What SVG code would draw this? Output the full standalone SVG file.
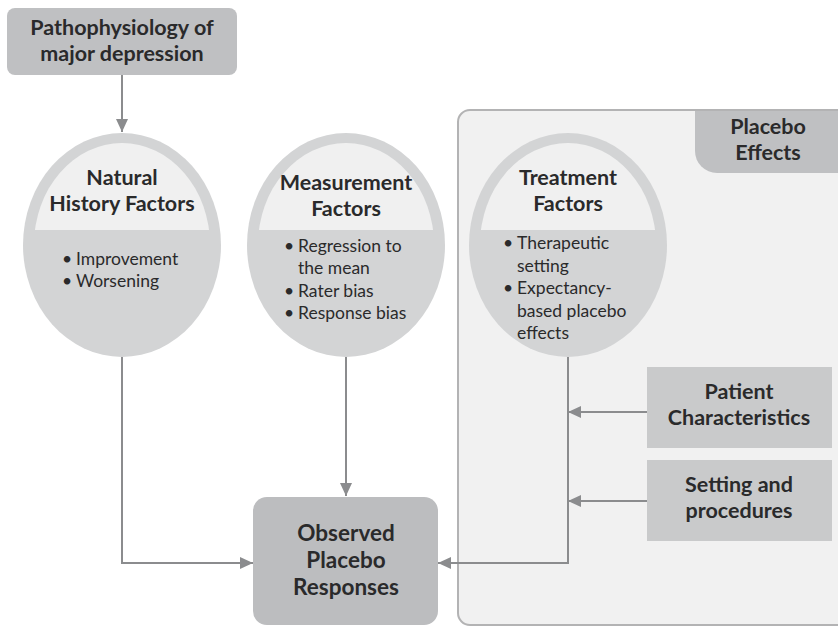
<svg xmlns="http://www.w3.org/2000/svg" width="838" height="626" viewBox="0 0 838 626">
  <style>
    .title { font-family: Lato, "Liberation Sans", sans-serif; font-weight: 700; fill: #2a2a2b; text-anchor: middle; font-size: 21.5px; }
    .big { font-size: 22.5px; }
    .item { font-family: Lato, "Liberation Sans", sans-serif; font-weight: 400; fill: #2a2a2b; font-size: 17.5px; }
    .outer { fill: #d3d4d5; }
    .inner { fill: #f0f0f0; }
    .wire { fill: none; stroke: #8b8c8e; stroke-width: 2; }
  </style>
  <defs>
    <marker id="arrow" markerWidth="13" markerHeight="12" refX="13" refY="6" orient="auto" markerUnits="userSpaceOnUse">
      <path d="M0,0 L13,6 L0,12 Z" fill="#8b8c8e"/>
    </marker>
    <clipPath id="capTop" clipPathUnits="userSpaceOnUse">
      <rect x="0" y="0" width="838" height="230"/>
    </clipPath>
  </defs>

  <rect width="838" height="626" fill="#ffffff"/>

  <!-- Placebo effects container -->
  <g id="placebo-effects">
    <rect x="458" y="110" width="400" height="515" rx="12" fill="#f1f1f1" stroke="#b3b3b4" stroke-width="2"/>
    <path d="M695,111 H840 V173 H717 A22,22 0 0 1 695,151 Z" fill="#bfc0c2"/>
    <text class="title" x="768" y="134">Placebo</text>
    <text class="title" x="768" y="160">Effects</text>
  </g>

  <!-- Top box -->
  <g id="pathophysiology">
    <rect x="7" y="8" width="230" height="67" rx="8" fill="#bfc0c2"/>
    <text class="title" x="122" y="35">Pathophysiology of</text>
    <text class="title" x="122" y="61">major depression</text>
  </g>

  <!-- Natural history factors -->
  <g id="natural-history">
    <ellipse class="outer" cx="122" cy="245" rx="99" ry="112"/>
    <ellipse class="inner" cx="122" cy="245" rx="88" ry="102" clip-path="url(#capTop)"/>
    <text class="title" x="122" y="185">Natural</text>
    <text class="title" x="122" y="211">History Factors</text>
    <text class="item" x="62" y="265">•</text>
    <text class="item" x="76" y="265">Improvement</text>
    <text class="item" x="62" y="287">•</text>
    <text class="item" x="76" y="287">Worsening</text>
  </g>

  <!-- Measurement factors -->
  <g id="measurement">
    <ellipse class="outer" cx="346" cy="245" rx="99" ry="112"/>
    <ellipse class="inner" cx="346" cy="245" rx="88" ry="102" clip-path="url(#capTop)"/>
    <text class="title" x="346" y="190">Measurement</text>
    <text class="title" x="346" y="216">Factors</text>
    <text class="item" x="284" y="252">•</text>
    <text class="item" x="298" y="252">Regression to</text>
    <text class="item" x="298" y="274">the mean</text>
    <text class="item" x="284" y="297">•</text>
    <text class="item" x="298" y="297">Rater bias</text>
    <text class="item" x="284" y="319">•</text>
    <text class="item" x="298" y="319">Response bias</text>
  </g>

  <!-- Treatment factors -->
  <g id="treatment">
    <ellipse class="outer" cx="568" cy="245" rx="99" ry="112"/>
    <ellipse class="inner" cx="568" cy="245" rx="88" ry="102" clip-path="url(#capTop)"/>
    <text class="title" x="568" y="185">Treatment</text>
    <text class="title" x="568" y="211">Factors</text>
    <text class="item" x="503" y="249">•</text>
    <text class="item" x="517" y="249">Therapeutic</text>
    <text class="item" x="517" y="272">setting</text>
    <text class="item" x="503" y="294">•</text>
    <text class="item" x="517" y="294">Expectancy-</text>
    <text class="item" x="517" y="317">based placebo</text>
    <text class="item" x="517" y="339">effects</text>
  </g>

  <!-- Patient characteristics -->
  <g id="patient">
    <rect x="647" y="367" width="185" height="81" fill="#c9cacb"/>
    <text class="title" x="739" y="399">Patient</text>
    <text class="title" x="739" y="425">Characteristics</text>
  </g>

  <!-- Setting and procedures -->
  <g id="setting">
    <rect x="647" y="460" width="185" height="81" fill="#c9cacb"/>
    <text class="title" x="739" y="492">Setting and</text>
    <text class="title" x="739" y="518">procedures</text>
  </g>

  <!-- Observed placebo responses -->
  <g id="observed">
    <rect x="253" y="497" width="185" height="128" rx="14" fill="#bcbdbf"/>
    <text class="title big" x="346" y="541">Observed</text>
    <text class="title big" x="346" y="568">Placebo</text>
    <text class="title big" x="346" y="595">Responses</text>
  </g>

  <!-- Connectors -->
  <g id="connectors">
    <path class="wire" d="M122,75 V132" marker-end="url(#arrow)"/>
    <path class="wire" d="M122,357 V563 H253" marker-end="url(#arrow)"/>
    <path class="wire" d="M346,357 V496" marker-end="url(#arrow)"/>
    <path class="wire" d="M568,357 V563 H438" marker-end="url(#arrow)"/>
    <path class="wire" d="M647,412 H568" marker-end="url(#arrow)"/>
    <path class="wire" d="M647,501 H568" marker-end="url(#arrow)"/>
  </g>
</svg>
